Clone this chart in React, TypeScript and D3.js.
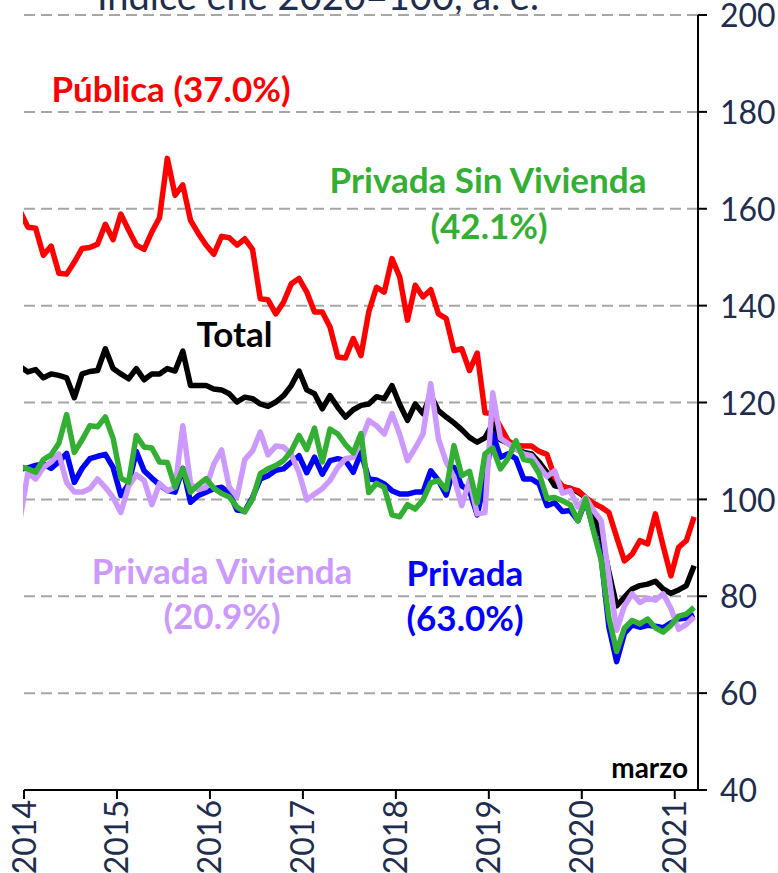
import React from "react";
import * as d3 from "d3";

// Month index relative to Jan 2014 (Dec 2013 = -1 ... Mar 2021 = 86)
const monthIndex: number[] = d3.range(-1, 87);

const yearLabels = ["2014", "2015", "2016", "2017", "2018", "2019", "2020", "2021"];
const yTicks = [40, 60, 80, 100, 120, 140, 160, 180, 200];

const publica = [
  159.5,
  156.2, 156, 150.4, 152.3, 146.7, 146.5, 149, 151.8, 152, 152.7, 156.8, 153.6,
  158.9, 155.6, 152.5, 151.6, 155.2, 158.2, 170.4, 162.8, 164.9, 157.6, 154.9, 152.5,
  150.6, 154.3, 154, 152.5, 153.8, 151.6, 141.4, 141.2, 138.3, 140.7, 144.5, 145.6,
  142.8, 138.7, 138.7, 135.6, 129.4, 129.2, 133.2, 129.7, 138.7, 143.8, 142.8, 149.7,
  145.9, 137, 144.2, 141.8, 143.3, 138.3, 137.3, 130.7, 131.1, 126.6, 130.2, 117.9,
  117.7, 115, 112.1, 111.1, 111, 111, 109.9, 109.3, 104.6, 102.8, 102.2, 101.8,
  100.4, 99.2, 98.4, 97.3, 92.2, 87.3, 88.7, 91.5, 90.8, 97, 90.4, 84.2,
  90.1, 91.5, 96.4,
];

const total = [
  127.4,
  126.3, 126.8, 125.1, 125.9, 125.6, 125.1, 121, 125.9, 126.4, 126.6, 131.1, 127,
  125.9, 124.9, 127, 124.7, 125.9, 125.9, 127, 126.5, 130.6, 123.5, 123.5, 123.5,
  122.8, 122.6, 121.8, 120.1, 121.1, 120.8, 119.7, 119.2, 120.1, 121.4, 123.5, 126.5,
  122.6, 121.8, 118.7, 121.4, 119, 117, 118.5, 119.4, 119.7, 121.2, 120.8, 123.5,
  119.6, 116.3, 119.7, 117.7, 121.5, 118.3, 117, 115.8, 114.4, 112.8, 111.8, 112.7,
  115.6, 112.3, 111.6, 110.4, 109.7, 109.4, 107.7, 105.5, 102.8, 102.5, 102.3, 101.5,
  100.4, 96.5, 92.5, 85, 78, 79.8, 81.5, 82.2, 82.5, 83.1, 81.5, 80.6,
  81.3, 82.2, 86.3,
];

const sinVivienda = [
  106.8,
  106.3, 105.6, 108.2, 109.2, 111.6, 117.5, 109.7, 112.3, 115.2, 115, 117, 112.6,
  104.4, 103.5, 113.2, 110.8, 110.6, 107.7, 107.6, 102.5, 106.3, 101.5, 103, 104.3,
  102.3, 101.2, 100.5, 98.4, 97.4, 100.1, 105.3, 106.3, 107, 108, 110, 113.2,
  110.3, 114.7, 107.7, 114.5, 113.5, 111.3, 109.6, 113.6, 101.4, 103.3, 102.5, 96.8,
  96.4, 98.9, 98, 99.9, 103.4, 103.9, 102, 111.1, 104.9, 105.8, 99.3, 109.4,
  110.6, 106.3, 108.5, 112.1, 108.2, 107.9, 105.3, 100.2, 100.4, 99.7, 98.9, 95.6,
  100.1, 93.5, 87.5, 75.5, 68.6, 73.4, 75, 74.3, 75.3, 73.5, 72.6, 74,
  75.9, 76.3, 77.7,
];

const privada = [
  106.2,
  106.5, 107, 107.3, 106.4, 107.8, 109.5, 103.5, 106.4, 108.4, 108.9, 109.3, 106.6,
  100.8, 103.1, 109.9, 105.9, 104.4, 103, 101.8, 101.5, 106.4, 99.4, 100.8, 101.5,
  102.2, 102.5, 101.3, 97.8, 97.6, 100.4, 104.2, 104.9, 106, 106.3, 107.7, 109,
  105.5, 108.7, 105.2, 108, 108.4, 108, 105.6, 109.7, 104.2, 104, 103.2, 101.8,
  101.1, 101.1, 101.5, 101.5, 105.9, 103.9, 100.9, 106.6, 102.8, 101.8, 96.8, 104,
  113.5, 108.7, 109.4, 108.4, 104.2, 104.2, 103.2, 98.7, 99.3, 97.5, 97.7, 95.6,
  99.8, 93.9, 88, 73.6, 66.5, 72.3, 74.1, 73.6, 74, 73.8, 73.5, 74.5,
  75.3, 75.5, 76.2,
];

const vivienda = [
  96,
  105.5, 104.2, 106.6, 107.7, 109.4, 103.5, 101.5, 101.5, 102.2, 104.2, 102.5, 100.4,
  97.3, 102.7, 105.1, 103.9, 98.9, 103.3, 101.8, 102.5, 115.2, 103.2, 102, 102.5,
  107.3, 110.2, 102.5, 100.6, 108.2, 110, 113.9, 109.2, 111, 110.8, 109.3, 105.5,
  99.9, 101.1, 102.2, 103.9, 106.6, 108.4, 108.7, 112, 116.3, 115.2, 113.5, 117.7,
  113.4, 108, 110.6, 113.5, 123.9, 112.5, 107.7, 104.6, 98.7, 104, 97, 97.3,
  122, 112.6, 111.5, 110.4, 109.4, 109, 106.8, 104.7, 105.9, 101.3, 101.8, 98.4,
  100.4, 97.7, 95.6, 84, 73, 78, 80.5, 78.7, 79.6, 79.2, 80.5, 77.5,
  73.2, 74.2, 75.7,
];

// drawing order (first = bottom)
const seriesNames = ["Total", "Pública", "Privada", "Privada Vivienda", "Privada Sin Vivienda"];
const seriesValues = [total, publica, privada, vivienda, sinVivienda];
const seriesColors = ["#000000", "#ff0000", "#0000ff", "#cc99ff", "#33b033"];

const W = 778;
const H = 873;
const plotLeft = 24;
const plotRight = 698;
const plotTop = 15;
const plotBottom = 790;

const FONT = "Lato, 'Open Sans', sans-serif";
const NAVY = "#1f2d4e";

export default function App() {
  const x = d3.scaleLinear().domain([-0.5, 86.5]).range([plotLeft, plotRight]);
  const y = d3.scaleLinear().domain([40, 200]).range([plotBottom, plotTop]);
  const yearTickIdx = yearLabels.map((_, k) => k * 12 - 0.5);

  const line = d3
    .line<number>()
    .x((_, i) => x(monthIndex[i]))
    .y((d) => y(d));

  return (
    <svg
      width={W}
      height={H}
      style={{ position: "absolute", left: 0, top: 0, background: "#fff" }}
      fontFamily={FONT}
    >
      <defs>
        <clipPath id="plotClip">
          <rect x={plotLeft - 1} y={0} width={plotRight - plotLeft + 1} height={plotBottom} />
        </clipPath>
      </defs>
      <rect width={W} height={H} fill="#fff" />

      {/* title, cut off at top as in the original */}
      <text x={97} y={10} fontSize={38} fill={NAVY}>
        Índice ene 2020=100, a. e.
      </text>

      {/* gridlines */}
      {yTicks
        .filter((v) => v > 40)
        .map((v) => (
          <line
            key={"g" + v}
            x1={plotLeft}
            x2={plotRight}
            y1={y(v)}
            y2={y(v)}
            stroke="#a6a6a6"
            strokeWidth={2}
            strokeDasharray="11,6"
          />
        ))}

      {/* series */}
      <g clipPath="url(#plotClip)">
        {seriesValues.map((vals, si) => (
          <path
            key={seriesNames[si]}
            d={line(vals) || ""}
            fill="none"
            stroke={seriesColors[si]}
            strokeWidth={5.5}
            strokeLinejoin="round"
          />
        ))}
      </g>

      {/* right axis */}
      <line x1={plotRight} x2={plotRight} y1={plotTop} y2={plotBottom} stroke="#000" strokeWidth={2} />
      {yTicks.map((v) => (
        <g key={"t" + v}>
          <line x1={plotRight} x2={plotRight + 9} y1={y(v)} y2={y(v)} stroke="#000" strokeWidth={2} />
          <text x={720} y={y(v)} dy="0.38em" fontSize={32} fill={NAVY}>
            {v}
          </text>
        </g>
      ))}

      {/* bottom axis */}
      <line x1={plotLeft} x2={plotRight} y1={plotBottom} y2={plotBottom} stroke="#000" strokeWidth={2} />
      {yearTickIdx.map((idx, k) => (
        <g key={"y" + k}>
          <line x1={x(idx)} x2={x(idx)} y1={plotBottom} y2={plotBottom + 9} stroke="#000" strokeWidth={2} />
          <text
            transform={`translate(${x(idx)},${plotBottom + 10}) rotate(-90)`}
            textAnchor="end"
            dy="0.36em"
            fontSize={32}
            fill={NAVY}
          >
            {yearLabels[k]}
          </text>
        </g>
      ))}

      {/* series labels */}
      <g fontWeight="bold" textAnchor="middle" fontSize={35}>
        <text x={171} y={102} fill="#ff0000">Pública (37.0%)</text>
        <text x={488} y={193} fill="#33b033">Privada Sin Vivienda</text>
        <text x={489} y={239} fill="#33b033">(42.1%)</text>
        <text x={234.5} y={347} fill="#000">Total</text>
        <text x={222} y={584} fill="#cc99ff">Privada Vivienda</text>
        <text x={222} y={629} fill="#cc99ff">(20.9%)</text>
        <text x={465} y={586} fill="#0000ff">Privada</text>
        <text x={465} y={631} fill="#0000ff">(63.0%)</text>
      </g>
      <text x={688} y={778} fontWeight="bold" fontSize={28} textAnchor="end" fill="#000">
        marzo
      </text>
    </svg>
  );
}
